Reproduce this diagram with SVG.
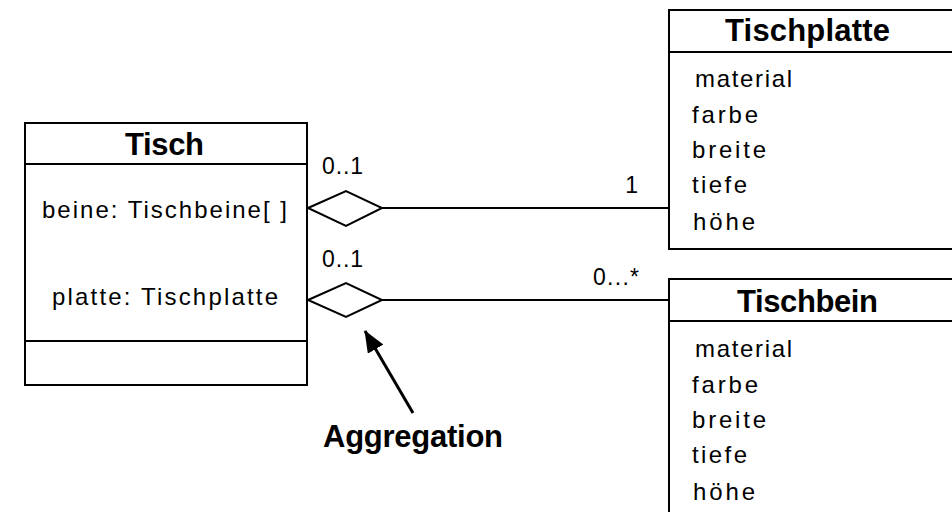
<svg xmlns="http://www.w3.org/2000/svg" width="952" height="512" viewBox="0 0 952 512">
  <style>
    .box { fill: #fff; stroke: #000; stroke-width: 2; }
    .sep { stroke: #000; stroke-width: 2; }
    .title { font-family: "Liberation Sans", Arial, sans-serif; font-weight: bold; font-size: 31px; fill: #000; }
    .attr { font-family: "Liberation Sans", Arial, sans-serif; font-size: 24px; fill: #000; }
    .mult { font-family: "Liberation Sans", Arial, sans-serif; font-size: 23px; fill: #000; }
    .link { stroke: #000; stroke-width: 2; fill: none; }
    .diamond { fill: #fff; stroke: #000; stroke-width: 2; }
  </style>
  <defs>
    <marker id="arrowHead" viewBox="0 0 22 18" refX="21" refY="9" markerWidth="22" markerHeight="18" markerUnits="userSpaceOnUse" orient="auto">
      <path d="M0,0 L22,9 L0,18 Z" fill="#000"/>
    </marker>
  </defs>
  <rect width="952" height="512" fill="#fff"/>

  <!-- class Tisch -->
  <g id="tisch">
    <rect class="box" x="25" y="123" width="282" height="262"/>
    <line class="sep" x1="25" y1="164" x2="307" y2="164"/>
    <line class="sep" x1="25" y1="341" x2="307" y2="341"/>
    <text class="title" x="125" y="155" textLength="79">Tisch</text>
    <text class="attr" x="42" y="218" textLength="245">beine: Tischbeine[ ]</text>
    <text class="attr" x="52" y="305" textLength="226">platte: Tischplatte</text>
  </g>

  <!-- class Tischplatte -->
  <g id="tischplatte">
    <rect class="box" x="669" y="10" width="300" height="239"/>
    <line class="sep" x1="669" y1="52" x2="952" y2="52"/>
    <text class="title" x="725" y="41" textLength="165">Tischplatte</text>
    <text class="attr" x="695" y="87" textLength="97">material</text>
    <text class="attr" x="692" y="123" textLength="66">farbe</text>
    <text class="attr" x="692" y="158" textLength="74">breite</text>
    <text class="attr" x="692" y="193" textLength="55">tiefe</text>
    <text class="attr" x="693" y="230" textLength="62">höhe</text>
  </g>

  <!-- class Tischbein -->
  <g id="tischbein">
    <rect class="box" x="669" y="279" width="300" height="260"/>
    <line class="sep" x1="669" y1="321" x2="952" y2="321"/>
    <text class="title" x="737" y="312" textLength="141">Tischbein</text>
    <text class="attr" x="695" y="357" textLength="97">material</text>
    <text class="attr" x="692" y="393" textLength="66">farbe</text>
    <text class="attr" x="692" y="428" textLength="74">breite</text>
    <text class="attr" x="692" y="463" textLength="55">tiefe</text>
    <text class="attr" x="693" y="500" textLength="62">höhe</text>
  </g>

  <!-- aggregations -->
  <g id="connectors">
    <line class="link" x1="382" y1="208" x2="669" y2="208"/>
    <polygon class="diamond" points="308,208 346,191 382,208 346,226"/>
    <line class="link" x1="382" y1="300" x2="669" y2="300"/>
    <polygon class="diamond" points="308,300 346,283 382,300 346,317"/>
    <text class="mult" x="322" y="174" textLength="41">0..1</text>
    <text class="mult" x="638" y="193" text-anchor="end">1</text>
    <text class="mult" x="322" y="267" textLength="41">0..1</text>
    <text class="mult" x="593" y="285" textLength="46">0...*</text>
    <line x1="413" y1="413" x2="365" y2="331" stroke="#000" stroke-width="3" marker-end="url(#arrowHead)"/>
  </g>

  <g id="note">
    <text class="title" x="323" y="447" textLength="180">Aggregation</text>
  </g>
</svg>
